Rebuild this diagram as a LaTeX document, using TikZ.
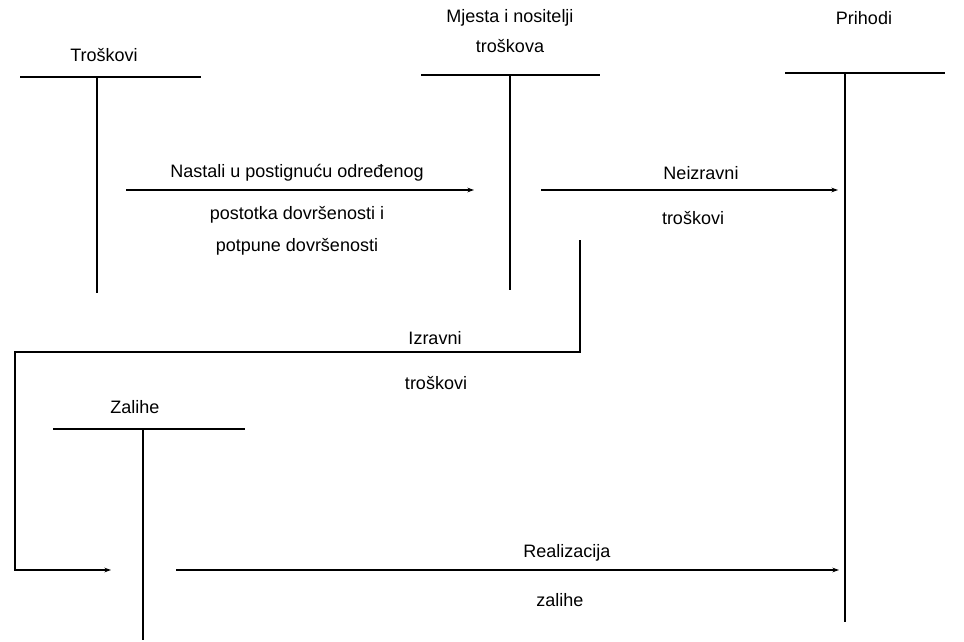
\documentclass[tikz,border=0pt]{standalone}
\usepackage{fontspec}
\setmainfont{Liberation Sans}
\usetikzlibrary{arrows.meta}
\begin{document}
\begin{tikzpicture}[x=0.75pt,y=-0.75pt,
  lbl/.style={inner sep=0pt,font=\fontsize{13.5}{16}\selectfont},
  bar/.style={line width=1pt},
  arr/.style={line width=0.9pt,-{Stealth[length=5pt,width=3.5pt]}}]
\useasboundingbox (0,0) rectangle (964,642);
% Troskovi
\node[lbl] (tl) at (104,55) {Troškovi};
\coordinate (t1) at (20,77); \coordinate (t2) at (201,77);
\coordinate (tt) at (97,77); \coordinate (tb) at (97,293);
\draw[bar] (t1) -- (t2); \draw[bar] (tt) -- (tb);
% Mjesta
\node[lbl,align=center] (ml) at (510,31) {Mjesta i nositelji\\[6pt]troškova};
\coordinate (m1) at (421,75); \coordinate (m2) at (600,75);
\coordinate (mt) at (510,75); \coordinate (mb) at (510,290);
\draw[bar] (m1) -- (m2); \draw[bar] (mt) -- (mb);
% Prihodi
\node[lbl] (pl) at (864,18) {Prihodi};
\coordinate (p1) at (785,73); \coordinate (p2) at (945,73);
\coordinate (pt) at (845,73); \coordinate (pb) at (845,622);
\draw[bar] (p1) -- (p2); \draw[bar] (pt) -- (pb);
% Zalihe
\node[lbl] (zl) at (135,407) {Zalihe};
\coordinate (z1) at (53,429); \coordinate (z2) at (245,429);
\coordinate (zt) at (143,429); \coordinate (zb) at (143,640);
\draw[bar] (z1) -- (z2); \draw[bar] (zt) -- (zb);
% arrow 1
\coordinate (a1s) at (126,190); \coordinate (a1e) at (474,190);
\draw[arr] (a1s) -- (a1e);
\node[lbl] (a1t) at (297,173) {Nastali u postignuću određenog};
\node[lbl,align=center] (a1b) at (297,231) {postotka dovršenosti i\\[8pt]potpune dovršenosti};
% arrow 2
\coordinate (a2s) at (541,190); \coordinate (a2e) at (838,190);
\draw[arr] (a2s) -- (a2e);
\node[lbl] (a2t) at (701,173) {Neizravni};
\node[lbl] (a2b) at (693,218) {troškovi};
% Izravni
\coordinate (i0) at (580,240); \coordinate (i1) at (580,352);
\coordinate (i2) at (15,352); \coordinate (i3) at (15,570);
\coordinate (i4) at (111,570);
\draw[arr] (i0) -- (i1) -- (i2) -- (i3) -- (i4);
\node[lbl] (it) at (435,338) {Izravni};
\node[lbl] (ib) at (436,383) {troškovi};
% Realizacija
\coordinate (rs) at (176,570); \coordinate (re) at (839,570);
\draw[arr] (rs) -- (re);
\node[lbl] (rt) at (567,553) {Realizacija};
\node[lbl] (rb) at (560,600) {zalihe};
\end{tikzpicture}
\end{document}
